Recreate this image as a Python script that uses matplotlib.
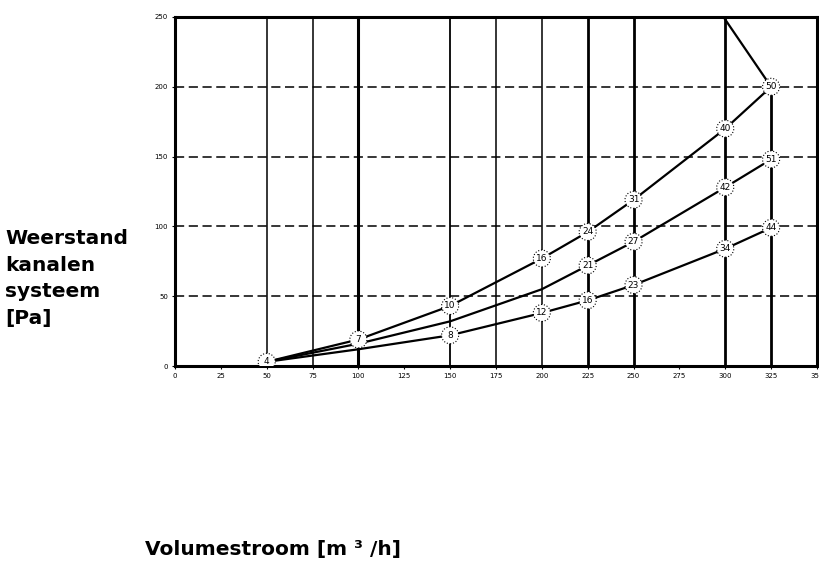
import numpy as np
import matplotlib.pyplot as plt

# volumestroom [m3/h] en weerstand [Pa]
x_top = [50, 100, 150, 200, 225, 250, 300, 325]
y_top = [3, 19, 43, 77, 96, 119, 170, 200]
lab_top = ["4", "7", "10", "16", "24", "31", "40", "50"]

x_mid = [50, 100, 150, 200, 225, 250, 300, 325]
y_mid = [3, 16, 32, 55, 72, 89, 128, 148]
lab_mid = ["", "", "", "", "21", "27", "42", "51"]

x_bot = [50, 100, 150, 200, 225, 250, 300, 325]
y_bot = [3, 12, 22, 38, 47, 58, 84, 99]
lab_bot = ["", "", "8", "12", "16", "23", "34", "44"]

x_cap = [325, 298]
y_cap = [200, 252]

vlines_x = [50, 75, 100, 150, 175, 200, 225, 250, 300, 325]
vlines_top = [250, 250, 250, 250, 250, 250, 250, 250, 250, 200]
vlines_w = [1.1, 1.1, 2.2, 1.3, 1.1, 1.1, 2.0, 2.0, 2.0, 2.0]

xticks = np.arange(0, 351, 25)
yticks = [0, 50, 100, 150, 200, 250]

fig = plt.figure(figsize=(8.2, 5.86), dpi=100)
ax = fig.add_axes([0.2134, 0.3754, 0.7829, 0.5956])
ax.set_xlim(0, 350)
ax.set_ylim(0, 250)

for xv, top, w in zip(vlines_x, vlines_top, vlines_w):
    ax.plot([xv, xv], [0, top], color="black", lw=w, zorder=1)
for yv in [50, 100, 150, 200]:
    ax.axhline(yv, color="black", lw=1.1, dashes=(6, 3), zorder=1)

for xs, ys in [(x_top, y_top), (x_mid, y_mid), (x_bot, y_bot), (x_cap, y_cap)]:
    ax.plot(xs, ys, color="black", lw=1.6, zorder=2)

# punten met omcirkelde getallen
for xs, ys, labs in [(x_top, y_top, lab_top), (x_mid, y_mid, lab_mid), (x_bot, y_bot, lab_bot)]:
    for xv, yv, lb in zip(xs, ys, labs):
        if lb == "":
            continue
        ax.scatter([xv], [yv], s=150, facecolors="white", edgecolors="black",
                   linewidths=0.8, linestyles=":", zorder=3)
        ax.text(xv, yv, lb, ha="center", va="center", fontsize=6.5, zorder=4)

for sp in ax.spines.values():
    sp.set_linewidth(2.2)
ax.set_xticks(xticks)
ax.set_yticks(yticks)
ax.tick_params(labelsize=5, length=2, width=0.8, pad=3, colors="black")

fig.text(0.006, 0.525, "Weerstand\nkanalen\nsysteem\n[Pa]", fontsize=14.5,
         fontweight="bold", family="DejaVu Sans", va="center", ha="left", linespacing=1.5)
fig.text(0.177, 0.062, "Volumestroom [m ³ /h]", fontsize=14.5,
         fontweight="bold", family="DejaVu Sans", va="center", ha="left")

fig.savefig("out.png", dpi=100)
